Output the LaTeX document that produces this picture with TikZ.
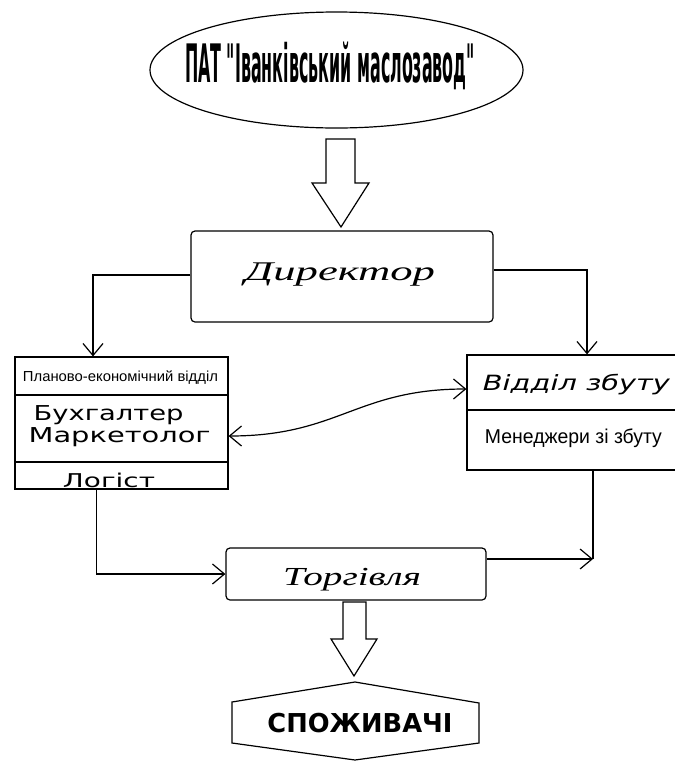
\documentclass[tikz,border=0pt]{standalone}
\usepackage{fontspec}
\usepackage{graphicx}
\setmainfont{DejaVu Sans}
\newfontfamily\fdv{DejaVu Sans}
\newfontfamily\fls{Liberation Sans}
\newfontfamily\fser{Liberation Serif}
\usetikzlibrary{arrows.meta,shapes.geometric}
\newcommand\fitw[2]{\resizebox{#1}{\height}{#2}}
\begin{document}
\begin{tikzpicture}[x=1pt,y=-1pt,line width=1.2pt,
  box/.style={draw,inner sep=0pt},
  txt/.style={inner sep=0pt,anchor=base},
  barb/.tip={Straight Barb[length=12pt,width=20pt,line width=1.2pt]},
  arr/.style={-barb}]
\useasboundingbox (0,0) rectangle (675,761);
\clip (0,0) rectangle (675,761);

% top ellipse
\node[box,ellipse,minimum width=373pt,minimum height=116pt] (top) at (336.5,70) {};
\node[txt] (ttop) at (330,82) {\fitw{290pt}{\fontsize{53}{53}\fdv\bfseries ПАТ "Іванківський маслозавод"}};

% block arrow down
\draw (326,139) -- (355,139) -- (355,183) -- (369,183) -- (341,227) -- (312,183) -- (326,183) -- cycle;

% director
\node[box,rounded corners=4pt,minimum width=302pt,minimum height=91pt] (dir) at (342,276.5) {};
\node[txt] (tdir) at (340,280) {\fitw{190pt}{\fontsize{27}{27}\fser\itshape Директор}};

% left department
\node[box,minimum width=213pt,minimum height=38pt] (lb1) at (121.5,376) {};
\node[box,minimum width=213pt,minimum height=67pt] (lb2) at (121.5,428.5) {};
\node[box,minimum width=213pt,minimum height=27pt] (lb3) at (121.5,475.5) {};
\node[txt] (t1) at (120.5,381) {\fitw{195pt}{\fontsize{14.5}{14.5}\fls Планово-економічний відділ}};
\node[txt,anchor=base west] (t2) at (33,420) {\fitw{150pt}{\fontsize{20.5}{20.5}\fdv Бухгалтер}};
\node[txt,anchor=base west] (t3) at (28,442) {\fitw{182pt}{\fontsize{20.5}{20.5}\fdv Маркетолог}};
\node[txt] (t4) at (109,487) {\fitw{92pt}{\fontsize{19}{19}\fdv Логіст}};

% right department
\node[box,minimum width=233pt,minimum height=55pt] (rb1) at (583.5,382.5) {};
\node[box,minimum width=233pt,minimum height=60pt] (rb2) at (583.5,440) {};
\node[txt] (t5) at (576.5,390) {\fitw{187pt}{\fontsize{21}{21}\fdv\itshape Відділ збуту}};
\node[txt] (t6) at (573.5,443) {\fitw{177pt}{\fontsize{20}{20}\fls Менеджери зі збуту}};

% trade
\node[box,rounded corners=4pt,minimum width=260pt,minimum height=52pt] (torg) at (356,574) {};
\node[txt] (t7) at (352,585) {\fitw{138pt}{\fontsize{26}{26}\fser\itshape Торгівля}};

% block arrow down 2
\draw (343,602) -- (366,602) -- (366,639) -- (377,639) -- (354,676) -- (331,639) -- (343,639) -- cycle;

% consumers hexagon
\draw (355,682) -- (479,703) -- (479,743) -- (355,760) -- (232,743) -- (232,702) -- cycle;
\node[txt] (cons) at (360,732) {\fitw{185pt}{\fontsize{26}{26}\fdv\bfseries СПОЖИВАЧІ}};

% connectors
\draw[arr] ([yshift=1.5pt]dir.west) -| ([xshift=-28.5pt]lb1.north);
\draw[arr] ([yshift=6.5pt]dir.east) -| ([xshift=3.5pt]rb1.north);
\draw[barb-barb] ([yshift=-7.5pt]lb2.east) .. controls +(110,0) and +(-110,0) .. ([yshift=-6.5pt]rb1.west);
\draw[arr] ([xshift=-25pt]lb3.south) |- (torg.west);
\coordinate (rc) at (593,559);
\draw (rc |- rb2.south) -- (rc);
\draw[arr] (torg.east |- rc) -- (rc);
\end{tikzpicture}
\end{document}
